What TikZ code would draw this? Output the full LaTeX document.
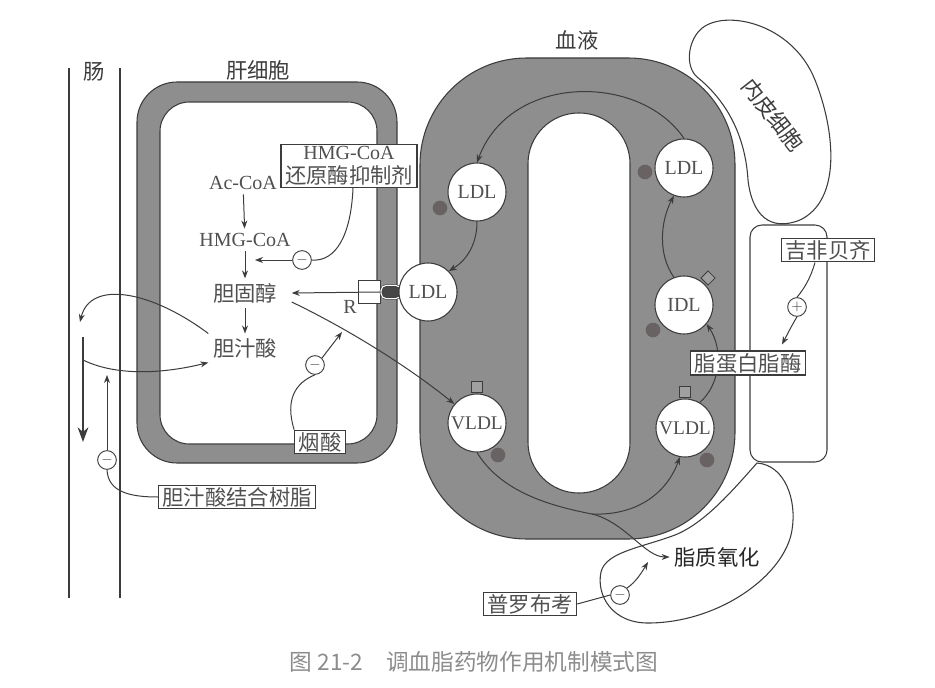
\documentclass[tikz,border=0pt]{standalone}
\usepackage{fontspec}
\setmainfont{Liberation Serif}
\newfontfamily\cjk{Noto Sans CJK SC}
\usetikzlibrary{arrows.meta,calc,positioning}
\definecolor{inkgray}{RGB}{60,60,60}
\definecolor{textgray}{RGB}{80,80,80}
\definecolor{wallgray}{RGB}{142,142,142}
\definecolor{spotgray}{RGB}{104,98,98}
\definecolor{capgray}{RGB}{70,70,70}
\definecolor{capgray2}{RGB}{160,160,160}
\tikzset{membrane/.style={
            draw=inkgray,
            fill=wallgray,
            line width=0.8pt
        },
        hole/.style={
            draw=inkgray,
            fill=white,
            line width=0.8pt
        },
        cell/.style={
            draw=inkgray,
            fill=white,
            line width=0.8pt
        },
        particle/.style={
            draw=inkgray,
            circle,
            fill=white,
            line width=0.8pt,
            inner sep=0pt,
            minimum size=43.5pt,
            text=textgray,
            font=\fontsize{15}{15}\selectfont
        },
        apo/.style={
            draw=inkgray,
            fill=capgray2,
            line width=0.6pt,
            inner sep=0pt,
            minimum size=8.5pt
        },
        drug/.style={
            draw=inkgray,
            fill=white,
            line width=0.8pt,
            inner xsep=3pt,
            inner ysep=1.5pt,
            text=textgray,
            font=\cjk\fontsize{16}{18}\selectfont
        },
        sign/.style={
            draw=inkgray,
            circle,
            fill=white,
            line width=0.7pt,
            inner sep=0pt,
            minimum size=14pt,
            text=inkgray,
            font=\fontsize{11}{11}\selectfont
        },
        metab/.style={
            text=textgray,
            font=\fontsize{15}{15}\selectfont
        },
        title/.style={
            text=inkgray,
            font=\cjk\fontsize{16}{18}\selectfont
        },
        gutline/.style={
            draw=inkgray,
            line width=0.9pt
        },
        plain/.style={
            draw=inkgray,
            line width=0.75pt
        },
        flow/.style={
            draw=inkgray,
            line width=0.75pt,
            -{Stealth[length=6pt,width=4.5pt]}
        },
        bigflow/.style={
            draw=inkgray,
            line width=1.8pt,
            -{Stealth[length=11pt,width=8pt]}
        }
    }
\begin{document}
\begin{tikzpicture}[x=0.75pt,y=-0.75pt]
        \useasboundingbox (0,0) rectangle (935,688);
        % intestine
        \draw[gutline] (69,68) -- (69,598);
        \draw[gutline] (120,68) -- (120,598);
        \node[title] (gut) at (94,72) {肠};
        % liver cell
        \filldraw[membrane, rounded corners=30pt] (137,82) rectangle (397,463);
        \filldraw[hole, rounded corners=22pt] (160,102) rectangle (377,444);
        \node[title] (liver) at (258,70) {肝细胞};
        % blood
        \filldraw[membrane, rounded corners=80pt] (420,58) rectangle (735,539);
        \filldraw[hole, rounded corners=38pt] (528,113) rectangle (630,493);
        \node[title] (blood) at (577,40) {血液};
        % endothelium
        \draw[cell] (700,30) .. controls (722,8) and (792,22) .. (815,80)
            .. controls (835,130) and (842,200) .. (800,220)
            .. controls (770,232) and (752,215) .. (748,180)
            .. controls (745,130) and (722,97) .. (697,77)
            .. controls (685,66) and (688,42) .. (700,30) -- cycle;
        \node[title, rotate=-52] (endo) at (773,115) {内皮细胞};
        \draw[cell, rounded corners=9pt] (750,225) rectangle (827,462);
        \draw[cell] (757,463) .. controls (785,465) and (797,500) .. (792,530)
            .. controls (785,575) and (720,622) .. (650,623)
            .. controls (612,624) and (596,595) .. (601,572)
            .. controls (606,552) and (640,548) .. (675,535)
            .. controls (705,523) and (733,490) .. (757,463) -- cycle;
        % spots
        \foreach \p in {(440,208),(645,172),(653,330),(498,455),(707,460)}
            \fill[spotgray] \p circle (5.5pt);
        % receptor
        \node[draw=inkgray, fill=white, line width=0.7pt, minimum width=16.5pt, minimum height=17pt, inner sep=0pt] (rcpt) at (369,292) {};
        \node[draw=inkgray, fill=capgray, double=white, double distance=0.8pt, rounded corners=4pt, minimum width=15pt, minimum height=10pt, inner sep=0pt] (cap) at (391,292) {};
        \node[metab] (rlabel) at (350,307) {R};
        % apoproteins
        \node[apo] (apoA) at (477,387) {};
        \node[apo] (apoB) at (685,392) {};
        \node[apo, rotate=45, minimum size=7.5pt] (apoC) at (708,278) {};
        % particles
        \node[particle] (ldlA) at (477,192) {LDL};
        \node[particle] (ldlB) at (684,168) {LDL};
        \node[particle] (idl) at (684,305) {IDL};
        \node[particle, font=\fontsize{14.5}{14.5}\selectfont] (vldlA) at (477,423) {VLDL};
        \node[particle, font=\fontsize{14.5}{14.5}\selectfont] (vldlB) at (685,428) {VLDL};
        \node[particle] (ldlR) at (428,292) {LDL};
        % liver pathway
        \node[metab] (acoa) at (243,183) {Ac-CoA};
        \node[metab] (hmg) at (245,240) {HMG-CoA};
        \node[title, text=textgray] (chol) at (245,293) {胆固醇};
        \node[title, text=textgray] (bile) at (245,348) {胆汁酸};
        \draw[flow] (acoa) -- (hmg);
        \draw[flow] (hmg) -- (chol);
        \draw[flow] (chol) -- (bile);
        % drugs
        \node[drug, align=center] (statin) at (349,166) {{\rmfamily\fontsize{15}{15}\selectfont HMG-CoA}\\还原酶抑制剂};
        \node[drug] (niacin) at (320,442) {烟酸};
        \node[drug] (resin) at (237,497) {胆汁酸结合树脂};
        \node[drug] (gemfib) at (828,250) {吉非贝齐};
        \node[drug] (probucol) at (530,604) {普罗布考};
        \node[title, text=black!85] (lipox) at (717,557) {脂质氧化};
        \node[sign] (mStatin) at (302,260) {$-$};
        \node[sign] (mNiacin) at (315,365) {$-$};
        \node[sign] (mResin) at (107,460) {$-$};
        \node[sign] (mProbucol) at (620,595) {$-$};
        \node[sign] (pGemfib) at (797,307) {$+$};
        % free ends
        \coordinate (hmgStep) at (255,260);
        \coordinate (cholStep) at (342,332);
        \coordinate (gutOut) at (80,322);
        \coordinate (gutTop) at (83,337);
        \coordinate (gutIn) at (83,360);
        \coordinate (gutBottom) at (83,442);
        \coordinate (gutUp) at (107,375);
        \coordinate (branch) at (592,514);
        \coordinate (oxStep) at (648,562);
        % connectors in the liver and gut
        \draw[plain] ($(statin.south)+(4,0)$) .. controls (351,235) and (336,262) .. (mStatin.east);
        \draw[flow] (mStatin.west) -- (hmgStep);
        \draw[flow] (cap.west) -- ($(chol.east)+(10,0)$);
        \draw[flow] ($(chol.east)+(10,9)$) .. controls (350,330) and (410,368) .. (vldlA.140);
        \draw[plain] (niacin.north west) .. controls (285,400) and (295,383) .. (mNiacin.south);
        \draw[flow] (mNiacin.north east) -- (cholStep);
        \draw[flow] (bile.north west) .. controls (150,290) and (90,280) .. (gutOut);
        \draw[flow] (gutIn) .. controls (120,378) and (170,372) .. (bile.south west);
        \draw[bigflow] (gutTop) -- (gutBottom);
        \draw[flow] (mResin.north) -- (gutUp);
        \draw[plain] (mResin.south) .. controls (108,492) and (130,497) .. (resin.west);
        % connectors in the blood
        \draw[flow] (ldlB.north) .. controls (640,73) and (510,73) .. (ldlA.north);
        \draw[flow] (ldlA.south) .. controls (477,240) and (470,258) .. (ldlR.45);
        \draw[flow] (idl.110) .. controls (658,255) and (660,222) .. (ldlB.250);
        \draw[flow] (vldlB.60) .. controls (720,385) and (724,350) .. (idl.-40);
        \draw[plain] (vldlA.south) .. controls (500,490) and (545,505) .. (branch);
        \draw[flow] (branch) .. controls (640,516) and (668,490) .. (vldlB.-100);
        \draw[flow] (branch) .. controls (625,522) and (645,557) .. (lipox.west);
        % drugs acting on the blood
        \node[drug] (lpl) at (748,363) {脂蛋白脂酶};
        \draw[plain] ($(gemfib.south)+(-13,0)$) .. controls (810,280) and (803,290) .. (pGemfib.north);
        \draw[flow] (pGemfib.south) .. controls (792,325) and (788,333) .. ($(lpl.north)+(34,-6)$);
        \draw[plain] (probucol.east) -- (mProbucol.west);
        \draw[flow] (mProbucol.north east) .. controls (636,582) and (642,572) .. (oxStep);
        % caption
        \node[text=black!45, font=\cjk\fontsize{17}{17}\selectfont] (caption) at (474,662) {图 21-2\quad 调血脂药物作用机制模式图};
    \end{tikzpicture}
\end{document}
